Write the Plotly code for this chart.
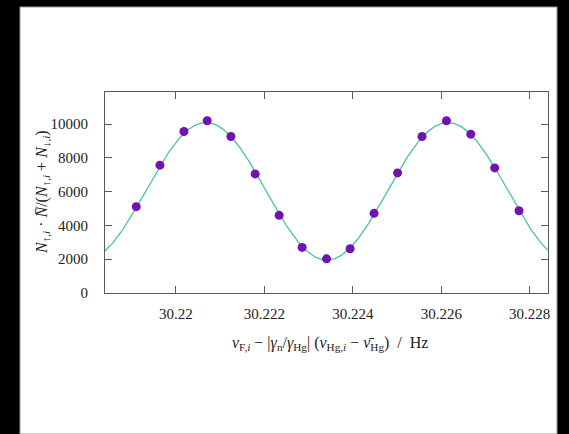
import numpy as np
import plotly.graph_objects as go

# measured points
freq = [30.219103, 30.219638, 30.220181, 30.220707, 30.221243, 30.221792,
        30.222334, 30.222854, 30.223406, 30.223939, 30.224481, 30.225012,
        30.225566, 30.226118, 30.226667, 30.227209, 30.227758]
counts = [5110, 7567, 9561, 10196, 9264, 7050,
          4599, 2700, 2024, 2617, 4718, 7110,
          9264, 10196, 9406, 7406, 4872]

# fit parameters (sinusoidal fit)
fit_offset = 6020
fit_amplitude = 4070
fit_peak = 30.220678
fit_period = 0.00547

x_range = [30.218396, 30.228414]
y_range = [0, 11900]
xtick_vals = [30.220, 30.222, 30.224, 30.226, 30.228]
xtick_text = ["30.22", "30.222", "30.224", "30.226", "30.228"]
ytick_vals = [0, 2000, 4000, 6000, 8000, 10000]
ytick_text = ["0", "2000", "4000", "6000", "8000", "10000"]

xf = np.linspace(x_range[0], x_range[1], 500)
yf = fit_offset + fit_amplitude * np.cos(2 * np.pi * (xf - fit_peak) / fit_period)

FONT = "Liberation Serif"
L, R, T, B = 105, 21, 92, 141
W, H = 569, 434
pw, ph = W - L - R, H - T - B

def px(x):
    return (x - L) / pw

def py(y):
    return (H - B - y) / ph

fig = go.Figure()
fig.add_trace(go.Scatter(x=xf, y=yf, mode="lines",
                         line=dict(color="#4cc3a0", width=1.3),
                         hoverinfo="skip", showlegend=False))
fig.add_trace(go.Scatter(x=freq, y=counts, mode="markers",
                         marker=dict(color="#7212b0", size=9, line=dict(width=0)),
                         showlegend=False))

axis_common = dict(showline=True, linecolor="#5a5a5a", linewidth=1, mirror="allticks",
                   ticks="inside", ticklen=7, tickcolor="#5a5a5a", tickwidth=1,
                   showgrid=False, zeroline=False,
                   tickfont=dict(family=FONT, size=15, color="#222"))

fig.update_xaxes(range=x_range, tickvals=xtick_vals, ticktext=xtick_text,
                 ticklabelstandoff=7, **axis_common)
fig.update_yaxes(range=y_range, tickvals=ytick_vals, ticktext=ytick_text,
                 ticklabelstandoff=13, **axis_common)

fig.add_shape(type="rect", xref="paper", yref="paper", layer="below",
              x0=px(20), x1=px(557), y0=py(434), y1=py(7),
              fillcolor="white", line=dict(color="#999", width=1))

fig.add_annotation(xref="paper", yref="paper", x=px(330), y=py(343),
                   text="<i>ν</i><sub>F,<i>i</i></sub> − |<i>γ</i><sub>n</sub>/<i>γ</i><sub>Hg</sub>| (<i>ν</i><sub>Hg,<i>i</i></sub> − <i>ν̄</i><sub>Hg</sub>)  /  Hz",
                   showarrow=False, font=dict(family=FONT, size=16, color="#222"),
                   xanchor="center", yanchor="middle")
fig.add_annotation(xref="paper", yref="paper", x=px(42), y=py(192),
                   text="<i>N</i><sub>↑,<i>i</i></sub> · <i>N̄</i>/(<i>N</i><sub>↑,<i>i</i></sub> + <i>N</i><sub>↓,<i>i</i></sub>)",
                   textangle=-90, showarrow=False,
                   font=dict(family=FONT, size=16, color="#222"),
                   xanchor="center", yanchor="middle")

fig.update_layout(width=W, height=H, margin=dict(l=L, r=R, t=T, b=B),
                  paper_bgcolor="black", plot_bgcolor="white", showlegend=False)

fig.write_html("out.html", config={"displayModeBar": False},
               post_script="document.body.style.margin='0';document.body.style.overflow='hidden';")
